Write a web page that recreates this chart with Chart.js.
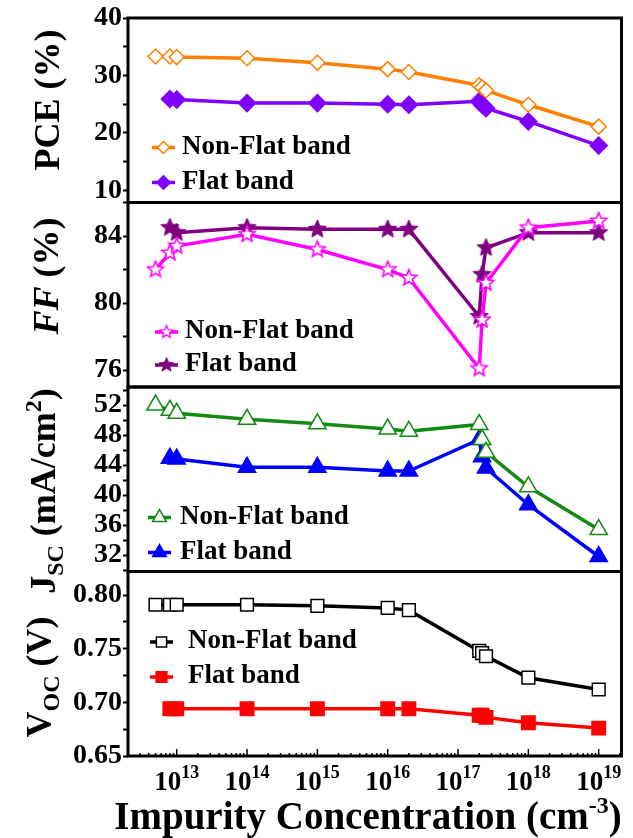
<!DOCTYPE html>
<html>
<head>
<meta charset="utf-8">
<script src="https://cdn.jsdelivr.net/npm/chart.js"></script>
<style>
  html, body { margin: 0; padding: 0; background: #fff; }
  #wrap { width: 633px; height: 838px; position: relative; }
</style>
</head>
<body>
<div id="wrap"><canvas id="chart"></canvas></div>
<script>
// impurity concentration (cm^-3)
const X_NONFLAT = [5e12, 8e12, 1e13, 1e14, 1e15, 1e16, 2e16, 2e17, 2.2e17, 2.5e17, 1e18, 1e19];
const X_FLAT = [8e12, 1e13, 1e14, 1e15, 1e16, 2e16, 2e17, 2.2e17, 2.5e17, 1e18, 1e19];
const X_DECADES = [13, 14, 15, 16, 17, 18, 19];

const PCE_NONFLAT = [33.3, 33.3, 33.2, 33.0, 32.2, 31.1, 30.6, 28.3, 27.9, 27.4, 24.9, 21.1];
const PCE_FLAT = [25.9, 25.8, 25.2, 25.2, 25.0, 24.9, 25.5, 24.9, 24.3, 22.0, 17.8];

const FF_NONFLAT = [82.0, 83.0, 83.4, 84.1, 83.2, 82.0, 81.5, 76.1, 79.0, 81.2, 84.5, 84.9];
const FF_FLAT = [84.5, 84.2, 84.5, 84.4, 84.4, 84.4, 79.2, 81.7, 83.3, 84.2, 84.2];

const JSC_NONFLAT = [52.0, 51.3, 50.9, 50.1, 49.5, 48.8, 48.5, 49.4, 47.4, 45.7, 41.1, 35.4];
const JSC_FLAT = [44.9, 44.8, 43.7, 43.7, 43.2, 43.2, 47.4, 45.1, 43.6, 38.7, 31.8];

const VOC_NONFLAT = [0.791, 0.791, 0.791, 0.791, 0.790, 0.788, 0.786, 0.748, 0.746, 0.743, 0.723, 0.712];
const VOC_FLAT = [0.694, 0.694, 0.694, 0.694, 0.694, 0.694, 0.688, 0.688, 0.686, 0.681, 0.676];

const LEGEND_LABELS = ["Non-Flat band", "Flat band"];

const FONT = "'Liberation Serif', 'Times New Roman', serif";

function makeStar(size, fill, stroke, lw) {
  const c = document.createElement("canvas");
  c.width = c.height = size;
  const g = c.getContext("2d");
  const cx = size / 2, R = size / 2 - lw, r = R * 0.45;
  g.beginPath();
  for (let i = 0; i < 10; i++) {
    const a = -Math.PI / 2 + i * Math.PI / 5;
    const rr = i % 2 ? r : R;
    g.lineTo(cx + rr * Math.cos(a), cx + rr * Math.sin(a));
  }
  g.closePath();
  g.fillStyle = fill;
  g.fill();
  g.lineWidth = lw;
  g.strokeStyle = stroke;
  g.stroke();
  return c;
}

const STAR_OPEN = makeStar(20, "#fff", "#ff00ff", 1.6);
const STAR_FILL = makeStar(21, "#800080", "#800080", 1);

function pts(xs, ys) {
  return xs.map((x, i) => ({ x: x, y: ys[i] }));
}

function serie(xs, ys, axis, color, style, radius, fill) {
  return {
    data: pts(xs, ys),
    yAxisID: axis,
    borderColor: color,
    borderWidth: 3.5,
    pointStyle: style,
    pointRadius: radius,
    pointBackgroundColor: fill,
    pointBorderColor: color,
    pointBorderWidth: 1.5,
    tension: 0,
    clip: false,
  };
}

const datasets = [
  serie(X_NONFLAT, PCE_NONFLAT, "yPCE", "#ff8000", "rectRot", 7.5, "#fff"),
  serie(X_FLAT, PCE_FLAT, "yPCE", "#8000ff", "rectRot", 8.5, "#8000ff"),
  serie(X_NONFLAT, FF_NONFLAT, "yFF", "#ff00ff", STAR_OPEN, 8, "#fff"),
  serie(X_FLAT, FF_FLAT, "yFF", "#800080", STAR_FILL, 8, "#800080"),
  serie(X_NONFLAT, JSC_NONFLAT, "yJSC", "#138a13", "triangle", 10, "#fff"),
  serie(X_FLAT, JSC_FLAT, "yJSC", "#0000ff", "triangle", 10, "#0000ff"),
  serie(X_NONFLAT, VOC_NONFLAT, "yVOC", "#000", "rect", 9, "#fff"),
  serie(X_FLAT, VOC_FLAT, "yVOC", "#ff0000", "rect", 9.5, "#ff0000"),
];

function yAxis(min, max, step, major, weight, digits) {
  return {
    type: "linear",
    position: "left",
    stack: "panels",
    stackWeight: 1,
    weight: weight,
    min: min,
    max: max,
    border: { display: false },
    grid: { drawOnChartArea: false, drawTicks: true, tickLength: 5, tickWidth: 2, tickColor: "#000" },
    ticks: {
      stepSize: step,
      includeBounds: false,
      autoSkip: false,
      padding: 1,
      color: "#000",
      font: { family: FONT, size: 28, weight: "bold" },
      callback: (v) => {
        const q = v / major;
        if (Math.abs(q - Math.round(q)) > 1e-6) return "";
        return digits ? v.toFixed(digits) : String(v);
      },
    },
    afterFit: (s) => { s.width = 128; },
  };
}

// panel layout: legend rows (offset from panel bottom), legend x, text x
const PANELS = [
  { id: "yPCE", rows: [-55, -20], lx: 152, tx: 182, sets: [0, 1] },
  { id: "yFF", rows: [-55, -22], lx: 155, tx: 185, sets: [2, 3] },
  { id: "yJSC", rows: [-54, -19], lx: 148, tx: 180, sets: [4, 5] },
  { id: "yVOC", rows: [-114, -79], lx: 150, tx: 188, sets: [6, 7] },
];

function drawParts(ctx, parts, x, y, rotate) {
  ctx.save();
  ctx.translate(x, y);
  if (rotate) ctx.rotate(-Math.PI / 2);
  ctx.textAlign = "left";
  ctx.textBaseline = "alphabetic";
  ctx.fillStyle = "#000";
  let total = 0;
  for (const p of parts) {
    ctx.font = (p.it ? "italic " : "") + "bold " + p.s + "px " + FONT;
    p.w = ctx.measureText(p.t).width;
    total += p.w;
  }
  let cx = -total / 2;
  for (const p of parts) {
    ctx.font = (p.it ? "italic " : "") + "bold " + p.s + "px " + FONT;
    ctx.fillText(p.t, cx, p.dy || 0);
    cx += p.w;
  }
  ctx.restore();
}

function drawMarker(ctx, ds, x, y, k) {
  const st = ds.pointStyle;
  const r = ds.pointRadius * k;
  if (typeof st !== "string") {
    const w = st.width * k;
    ctx.drawImage(st, x - w / 2, y - w / 2, w, w);
    return;
  }
  ctx.beginPath();
  if (st === "rectRot") {
    ctx.moveTo(x - r, y); ctx.lineTo(x, y - r); ctx.lineTo(x + r, y); ctx.lineTo(x, y + r);
  } else if (st === "triangle") {
    for (let i = 0; i < 3; i++) {
      const a = i * 2 * Math.PI / 3;
      ctx.lineTo(x + Math.sin(a) * r, y - Math.cos(a) * r);
    }
  } else {
    const h = r * Math.SQRT1_2;
    ctx.rect(x - h, y - h, 2 * h, 2 * h);
  }
  ctx.closePath();
  ctx.fillStyle = ds.pointBackgroundColor;
  ctx.fill();
  ctx.lineWidth = ds.pointBorderWidth;
  ctx.strokeStyle = ds.pointBorderColor;
  ctx.stroke();
}

const panelDecor = {
  id: "panelDecor",
  beforeDatasetsDraw(chart) {
    const { ctx, chartArea } = chart;
    ctx.save();
    ctx.strokeStyle = "#000";
    ctx.lineWidth = 3;
    for (const p of PANELS) {
      const s = chart.scales[p.id];
      ctx.strokeRect(chartArea.left, s.top, chartArea.right - chartArea.left, s.bottom - s.top);
    }
    // inward x ticks on the bottom panel
    const xs = chart.scales.x;
    const yb = chart.scales.yVOC.bottom;
    ctx.lineWidth = 1.5;
    for (let e = 12; e <= 19; e++) {
      for (let m = 1; m <= 9; m++) {
        const v = m * Math.pow(10, e);
        if (v < xs.min || v > xs.max) continue;
        const px = xs.getPixelForValue(v);
        ctx.beginPath();
        ctx.moveTo(px, yb);
        ctx.lineTo(px, yb - (m === 1 ? 7 : 3));
        ctx.stroke();
      }
    }
    ctx.restore();
  },
  afterDraw(chart) {
    const { ctx } = chart;
    const xs = chart.scales.x;

    // y titles
    drawParts(ctx, [{ t: "PCE (%)", s: 36 }], 59, 100, true);
    drawParts(ctx, [{ t: "FF", s: 36, it: true }, { t: " (%)", s: 36 }], 58, 276, true);
    drawParts(ctx, [
      { t: "J", s: 36 }, { t: "SC", s: 24, dy: 8 }, { t: " (mA/cm", s: 36 },
      { t: "2", s: 24, dy: -14 }, { t: ")", s: 36 },
    ], 55, 491, true);
    drawParts(ctx, [
      { t: "V", s: 36 }, { t: "OC", s: 24, dy: 8 }, { t: " (V)", s: 36 },
    ], 51, 677, true);

    // x tick labels
    for (const e of X_DECADES) {
      const px = xs.getPixelForValue(Math.pow(10, e));
      drawParts(ctx, [{ t: "10", s: 27 }, { t: String(e), s: 18, dy: -12 }], px, 790, false);
    }
    // x title
    drawParts(ctx, [
      { t: "Impurity Concentration (cm", s: 39 }, { t: "-3", s: 24, dy: -16 }, { t: ")", s: 39 },
    ], 368, 829, false);

    // legends
    for (const p of PANELS) {
      const s = chart.scales[p.id];
      p.rows.forEach((off, i) => {
        const ds = chart.data.datasets[p.sets[i]];
        const y = s.bottom + off;
        ctx.save();
        ctx.strokeStyle = ds.borderColor;
        ctx.lineWidth = 3.5;
        ctx.beginPath();
        ctx.moveTo(p.lx, y);
        ctx.lineTo(p.lx + 23, y);
        ctx.stroke();
        drawMarker(ctx, ds, p.lx + 11.5, y, 0.8);
        ctx.fillStyle = "#000";
        ctx.font = "bold 27px " + FONT;
        ctx.textAlign = "left";
        ctx.textBaseline = "alphabetic";
        ctx.fillText(LEGEND_LABELS[i], p.tx, y + 6);
        ctx.restore();
      });
    }
  },
};

new Chart(document.getElementById("chart"), {
  type: "line",
  data: { datasets: datasets },
  options: {
    responsive: true,
    maintainAspectRatio: false,
    animation: false,
    layout: { padding: { top: 18, right: 8, left: 0, bottom: 82 } },
    plugins: { legend: { display: false }, tooltip: { enabled: false } },
    scales: {
      x: { type: "logarithmic", min: 2.03e12, max: 2.11e19, display: false },
      yPCE: yAxis(7.9, 40, 5, 10, 4, 0),
      yFF: yAxis(75, 86, 2, 4, 3, 0),
      yJSC: yAxis(29.8, 54.4, 2, 4, 2, 0),
      yVOC: yAxis(0.65, 0.822, 0.025, 0.05, 1, 2),
    },
  },
  plugins: [panelDecor],
});
</script>
</body>
</html>
